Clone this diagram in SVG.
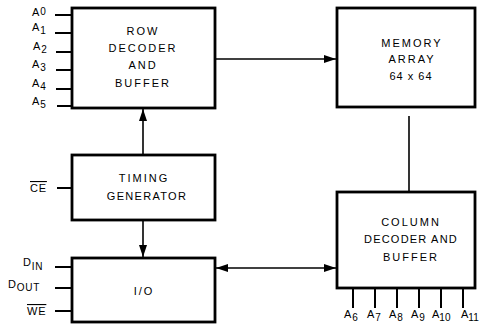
<svg xmlns="http://www.w3.org/2000/svg" width="483" height="330" viewBox="0 0 483 330">
<style>
.box{fill:#fff;stroke:#000;stroke-width:2.8}
.pin{stroke:#000;stroke-width:2;fill:none}
.wire{stroke:#000;stroke-width:1.6;fill:none}
text{font-family:"Liberation Sans",Arial,sans-serif;font-size:11px;fill:#000;letter-spacing:0.8px}
.c{text-anchor:middle;letter-spacing:2px}
.ol{text-decoration:overline}
</style>
<defs>
<marker id="ah" viewBox="0 0 12 8" refX="12" refY="4" markerWidth="12" markerHeight="8" markerUnits="userSpaceOnUse" orient="auto-start-reverse">
<path d="M0,0 L12,4 L0,8 Z" fill="#000"/>
</marker>
</defs>
<rect width="483" height="330" fill="#fff"/>
<g id="connectors">
<line class="wire" x1="215" y1="59" x2="336" y2="59" marker-end="url(#ah)"/>
<line class="wire" x1="143" y1="154" x2="143" y2="109" marker-end="url(#ah)"/>
<line class="wire" x1="143" y1="221" x2="143" y2="257" marker-end="url(#ah)"/>
<line class="wire" x1="409" y1="116" x2="409" y2="192"/>
<line class="wire" x1="216" y1="268" x2="336" y2="268" marker-start="url(#ah)" marker-end="url(#ah)"/>
</g>
<g id="row-decoder">
<rect class="box" x="72" y="8" width="143" height="100"/>
<text class="c" x="143" y="35">ROW</text>
<text class="c" x="143" y="52">DECODER</text>
<text class="c" x="143" y="69">AND</text>
<text class="c" x="143" y="87">BUFFER</text>
<g class="pin">
<line x1="55" y1="15" x2="72" y2="15"/>
<line x1="55" y1="33" x2="72" y2="33"/>
<line x1="56" y1="52" x2="72" y2="52"/>
<line x1="56" y1="70" x2="72" y2="70"/>
<line x1="56" y1="89" x2="72" y2="89"/>
<line x1="57" y1="106" x2="72" y2="106"/>
</g>
<text x="32" y="16">A<tspan dy="-1" font-size="10">0</tspan></text>
<text x="32" y="31">A<tspan dy="3" font-size="10">1</tspan></text>
<text x="33" y="50">A<tspan dy="3" font-size="10">2</tspan></text>
<text x="32" y="68">A<tspan dy="3" font-size="10">3</tspan></text>
<text x="32" y="87">A<tspan dy="3" font-size="10">4</tspan></text>
<text x="32" y="105">A<tspan dy="3" font-size="10">5</tspan></text>
</g>
<g id="timing-generator">
<rect class="box" x="72" y="155" width="143" height="65"/>
<text class="c" x="144" y="182">TIMING</text>
<text class="c" x="147" y="200" style="letter-spacing:1.3px">GENERATOR</text>
<line class="pin" x1="57" y1="188" x2="72" y2="188"/>
<text x="30" y="192" class="ol">CE</text>
</g>
<g id="io">
<rect class="box" x="72" y="258" width="143" height="64"/>
<text class="c" x="144" y="295">I/O</text>
<g class="pin">
<line x1="55" y1="267" x2="72" y2="267"/>
<line x1="55" y1="288" x2="72" y2="288"/>
<line x1="55" y1="311" x2="72" y2="311"/>
</g>
<text x="23" y="266">D<tspan dy="4" font-size="10">IN</tspan></text>
<text x="8" y="288">D<tspan dy="3" font-size="10">OUT</tspan></text>
<text x="27" y="315" class="ol">WE</text>
</g>
<g id="memory-array">
<rect class="box" x="337" y="8" width="138" height="99"/>
<text class="c" x="412" y="47">MEMORY</text>
<text class="c" x="412" y="63">ARRAY</text>
<text class="c" x="411" y="80" style="letter-spacing:1px">64 x 64</text>
</g>
<g id="column-decoder">
<rect class="box" x="337" y="192" width="138" height="96"/>
<text class="c" x="411" y="226">COLUMN</text>
<text class="c" x="411" y="243" style="letter-spacing:1.2px">DECODER AND</text>
<text class="c" x="411" y="261">BUFFER</text>
<g class="pin">
<line x1="353" y1="288" x2="353" y2="308"/>
<line x1="375" y1="288" x2="375" y2="308"/>
<line x1="397" y1="288" x2="397" y2="308"/>
<line x1="419" y1="288" x2="419" y2="308"/>
<line x1="441" y1="288" x2="441" y2="308"/>
<line x1="463" y1="288" x2="463" y2="308"/>
</g>
<text x="344" y="318">A<tspan dy="3" font-size="10">6</tspan></text>
<text x="367" y="318">A<tspan dy="3" font-size="10">7</tspan></text>
<text x="389" y="318">A<tspan dy="3" font-size="10">8</tspan></text>
<text x="411" y="318">A<tspan dy="3" font-size="10">9</tspan></text>
<text x="432" y="318" style="letter-spacing:0">A<tspan dy="3" font-size="10">10</tspan></text>
<text x="461" y="318" style="letter-spacing:0">A<tspan dy="3" font-size="10">11</tspan></text>
</g>
</svg>
